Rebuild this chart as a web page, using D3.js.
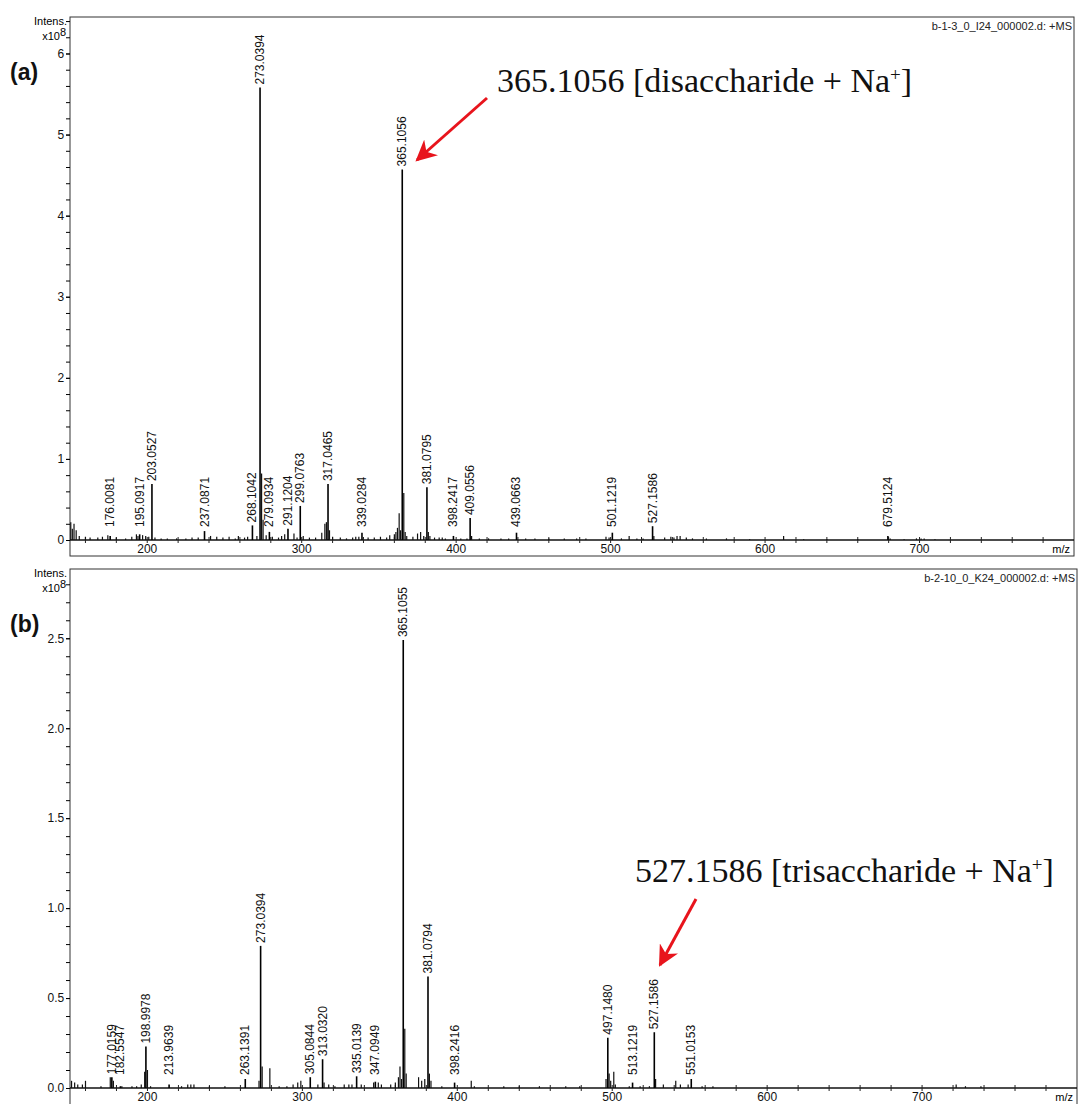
<!DOCTYPE html>
<html lang="en">
<head>
    <meta charset="UTF-8">
    <title>Mass spectra</title>
    <style>
        body { margin: 0; background: #fff; }
        svg text { font-family: "Liberation Sans", Arial, sans-serif; }
        svg text.ann { font-family: "Liberation Serif", "Times New Roman", serif; }
    </style>
</head>
<body>
    <div id="chart"></div>
    <script src="https://d3js.org/d3.v7.min.js"></script>
    <script>
        // x axis (m/z)
        const xTicks = [200, 300, 400, 500, 600, 700];

        // panel (a) - labelled peaks, intensity in 1e8
        const labelsA = ["176.0081", "195.0917", "203.0527", "237.0871", "268.1042", "273.0394", "279.0934",
            "291.1204", "299.0763", "317.0465", "339.0284", "365.1056", "381.0795", "398.2417", "409.0556",
            "439.0663", "501.1219", "527.1586", "679.5124"];
        const labelIntA = [0.05, 0.07, 0.69, 0.11, 0.18, 5.58, 0.10, 0.14, 0.42, 0.69, 0.09, 4.57, 0.65, 0.05, 0.27,
            0.09, 0.09, 0.17, 0.05];
        // panel (a) - unlabelled peaks
        const minorMzA = [150.5, 151.5, 152.6, 154, 156, 160, 163, 168, 171, 174.5, 180, 186, 190, 193, 194, 197, 199,
            201, 205, 209, 213, 219, 225, 229, 233, 241, 245, 249, 253, 257, 259, 263, 265, 271, 274.04, 275, 277, 281,
            285, 287, 289, 295, 297, 301, 305, 309, 313, 315, 316, 318, 320, 325, 329, 333, 335, 337, 343, 347, 351,
            355, 357, 360, 361, 362, 363.1, 364, 366.1, 367, 368, 372, 375, 377, 379, 382, 383, 386, 389, 391, 393,
            403, 407, 410, 415, 421, 429, 434, 445, 451, 460, 470, 478, 484, 497, 499, 507, 512, 517, 521, 528, 535,
            539, 541, 543, 545, 549, 553, 562, 575, 590, 612, 625, 640, 660, 681, 690, 698, 701, 703, 710];
        const minorIntA = [0.22, 0.14, 0.2, 0.12, 0.05, 0.04, 0.03, 0.03, 0.04, 0.06, 0.03, 0.02, 0.04, 0.07, 0.05,
            0.06, 0.05, 0.04, 0.03, 0.02, 0.02, 0.02, 0.02, 0.03, 0.03, 0.05, 0.04, 0.03, 0.04, 0.02, 0.05, 0.03, 0.04,
            0.05, 0.82, 0.25, 0.06, 0.04, 0.03, 0.05, 0.07, 0.08, 0.03, 0.05, 0.03, 0.03, 0.09, 0.2, 0.22, 0.12, 0.04,
            0.03, 0.02, 0.03, 0.04, 0.04, 0.03, 0.03, 0.04, 0.03, 0.06, 0.07, 0.1, 0.15, 0.33, 0.12, 0.58, 0.1, 0.05,
            0.04, 0.08, 0.1, 0.05, 0.1, 0.05, 0.03, 0.03, 0.03, 0.02, 0.02, 0.02, 0.05, 0.02, 0.02, 0.02, 0.02, 0.02,
            0.02, 0.02, 0.02, 0.02, 0.02, 0.04, 0.03, 0.02, 0.05, 0.02, 0.02, 0.05, 0.03, 0.04, 0.03, 0.05, 0.05,
            0.03, 0.02, 0.02, 0.02, 0.01, 0.05, 0.01, 0.01, 0.01, 0.02, 0.01, 0.02, 0.02, 0.02, 0.01];
        const yTicksA = [0, 1, 2, 3, 4, 5, 6];

        // panel (b)
        const labelsB = ["177.0159", "182.5547", "198.9978", "213.9639", "263.1391", "273.0394", "305.0844",
            "313.0320", "335.0139", "347.0949", "365.1055", "381.0794", "398.2416", "497.1480", "513.1219",
            "527.1586", "551.0153"];
        const labelIntB = [0.06, 0.01, 0.23, 0.02, 0.05, 0.79, 0.06, 0.16, 0.065, 0.035, 2.49, 0.62, 0.03, 0.28, 0.03,
            0.31, 0.05];
        const minorMzB = [151, 153, 155, 158, 160, 170, 176, 178, 183.5, 190, 193, 196, 198.2, 200, 202, 222, 226, 228,
            230, 240, 250, 272, 274.04, 279, 285, 290, 294, 297, 299, 310, 314, 317, 321, 327, 330, 332, 338, 346,
            349, 351, 357, 360, 362, 363, 364, 366.1, 367, 375, 377, 379, 382, 383, 390, 409, 411, 430, 440, 453,
            470, 479, 496, 498, 499, 501, 502, 511, 518, 524, 528, 533, 541, 544, 549, 558, 565, 722, 728, 738];
        const minorIntB = [0.04, 0.03, 0.02, 0.02, 0.04, 0.01, 0.06, 0.04, 0.01, 0.01, 0.01, 0.02, 0.09, 0.1, 0.01,
            0.01, 0.02, 0.02, 0.02, 0.01, 0.01, 0.04, 0.12, 0.11, 0.01, 0.01, 0.02, 0.03, 0.04, 0.02, 0.03, 0.02,
            0.01, 0.02, 0.02, 0.02, 0.02, 0.03, 0.03, 0.02, 0.02, 0.03, 0.06, 0.12, 0.05, 0.33, 0.08, 0.06, 0.04,
            0.05, 0.08, 0.04, 0.01, 0.04, 0.01, 0.01, 0.01, 0.01, 0.01, 0.01, 0.05, 0.08, 0.04, 0.09, 0.02, 0.01,
            0.01, 0.01, 0.05, 0.02, 0.04, 0.02, 0.02, 0.01, 0.01, 0.02, 0.01, 0.01];
        const yTicksB = [0, 0.5, 1.0, 1.5, 2.0, 2.5];

        const width = 1080, height = 1104;
        const svg = d3.select("#chart").append("svg")
            .attr("width", width)
            .attr("height", height);

        svg.append("defs").append("marker")
            .attr("id", "head")
            .attr("viewBox", "0 0 10 10")
            .attr("refX", 9).attr("refY", 5)
            .attr("markerWidth", 7).attr("markerHeight", 7)
            .attr("markerUnits", "strokeWidth")
            .attr("orient", "auto")
            .append("path")
            .attr("d", "M0,0 L10,5 L0,10 L3,5 Z")
            .attr("fill", "#e8141c");

        function drawPanel(p) {
            const g = svg.append("g");
            const x = d3.scaleLinear().domain([150, 800]).range([p.left, p.right]);
            const y = d3.scaleLinear().domain([0, p.yMax]).range([p.base, p.top]);

            // frame
            g.append("rect")
                .attr("x", p.left).attr("y", p.top)
                .attr("width", p.right - p.left).attr("height", p.bottom - p.top)
                .attr("fill", "none").attr("stroke", "#333").attr("stroke-width", 1);

            // y axis, minor ticks
            const yAxis = d3.axisLeft(y)
                .tickValues(d3.range(0, p.yMax, p.yMinor))
                .tickSize(4).tickFormat("");
            g.append("g").attr("transform", `translate(${p.left},0)`).call(yAxis)
                .call(s => s.select(".domain").remove());
            g.append("g").attr("transform", `translate(${p.left},0)`)
                .call(d3.axisLeft(y).tickValues(p.yTicks).tickSize(4).tickFormat(d3.format(p.yFmt)))
                .call(s => s.select(".domain").remove())
                .call(s => s.selectAll("text").attr("font-size", 12).attr("dx", "0.1em").attr("fill", "#111"));

            g.append("text").attr("x", p.left - 3).attr("y", p.top + 8)
                .attr("text-anchor", "end").attr("font-size", 11).text("Intens.");
            g.append("text").attr("x", p.left - 4).attr("y", p.top + 23)
                .attr("text-anchor", "end").attr("font-size", 11)
                .text("x10")
                .append("tspan").attr("dy", -4).attr("font-size", 11).text("8");

            // x axis
            g.append("line")
                .attr("x1", p.left).attr("x2", p.right)
                .attr("y1", p.base).attr("y2", p.base)
                .attr("stroke", "#111").attr("stroke-width", 1.6);
            g.append("g").selectAll("line")
                .data(d3.range(160, 800, 20))
                .join("line")
                .attr("x1", d => x(d)).attr("x2", d => x(d))
                .attr("y1", p.base - 3).attr("y2", p.base + 3)
                .attr("stroke", "#222");
            g.append("g").selectAll("text")
                .data(xTicks)
                .join("text")
                .attr("x", d => x(d)).attr("y", p.base + 13)
                .attr("text-anchor", "middle").attr("font-size", 12).attr("fill", "#111")
                .text(d => d);
            g.append("text").attr("x", p.right - 4).attr("y", p.base + 13)
                .attr("text-anchor", "end").attr("font-size", 11).text("m/z");

            // header
            g.append("text").attr("x", p.right - 2).attr("y", p.top + 13)
                .attr("text-anchor", "end").attr("font-size", 11).attr("fill", "#222")
                .text(p.header);

            // peaks
            g.append("g").selectAll("line")
                .data(d3.zip(p.minorMz, p.minorInt))
                .join("line")
                .attr("x1", d => x(d[0])).attr("x2", d => x(d[0]))
                .attr("y1", p.base).attr("y2", d => y(d[1]))
                .attr("stroke", "#111").attr("stroke-width", 1.2);
            const peaks = d3.zip(p.labels, p.labelInt);
            g.append("g").selectAll("line")
                .data(peaks)
                .join("line")
                .attr("x1", d => x(+d[0])).attr("x2", d => x(+d[0]))
                .attr("y1", p.base).attr("y2", d => y(d[1]))
                .attr("stroke", "#000").attr("stroke-width", 1.6);
            g.append("g").selectAll("text")
                .data(peaks)
                .join("text")
                .attr("transform", d => `translate(${x(+d[0]) + 4},${Math.min(y(d[1]), p.base - 10) - 3}) rotate(-90)`)
                .attr("font-size", 12).attr("fill", "#111")
                .text(d => d[0]);

            // panel tag
            g.append("text").attr("x", 10).attr("y", p.tagY)
                .attr("font-size", 23).attr("font-weight", "bold").attr("fill", "#111")
                .text(p.tag);

            // annotation
            const ann = g.append("text").attr("class", "ann")
                .attr("x", p.annX).attr("y", p.annY)
                .attr("font-size", 34).attr("fill", "#111");
            ann.append("tspan").text(p.annText + " [" + p.annWord + " + Na");
            ann.append("tspan").attr("dy", -11).attr("font-size", 19).text("+");
            ann.append("tspan").attr("dy", 11).text("]");

            g.append("line")
                .attr("x1", p.arrow[0]).attr("y1", p.arrow[1])
                .attr("x2", p.arrow[2]).attr("y2", p.arrow[3])
                .attr("stroke", "#e8141c").attr("stroke-width", 3)
                .attr("marker-end", "url(#head)");
        }

        drawPanel({
            left: 70, right: 1074, top: 17, bottom: 556, base: 540, yMax: 6.45, yMinor: 0.2,
            yTicks: yTicksA, yFmt: "d", header: "b-1-3_0_I24_000002.d: +MS",
            labels: labelsA, labelInt: labelIntA, minorMz: minorMzA, minorInt: minorIntA,
            tag: "(a)", tagY: 80, annText: "365.1056", annWord: "disaccharide", annX: 497, annY: 92,
            arrow: [487, 98, 417, 160]
        });
        drawPanel({
            left: 70, right: 1077, top: 569, bottom: 1110, base: 1088, yMax: 2.885, yMinor: 0.1,
            yTicks: yTicksB, yFmt: ".1f", header: "b-2-10_0_K24_000002.d: +MS",
            labels: labelsB, labelInt: labelIntB, minorMz: minorMzB, minorInt: minorIntB,
            tag: "(b)", tagY: 632, annText: "527.1586", annWord: "trisaccharide", annX: 635, annY: 882,
            arrow: [696, 899, 660, 965]
        });
    </script>
</body>
</html>
